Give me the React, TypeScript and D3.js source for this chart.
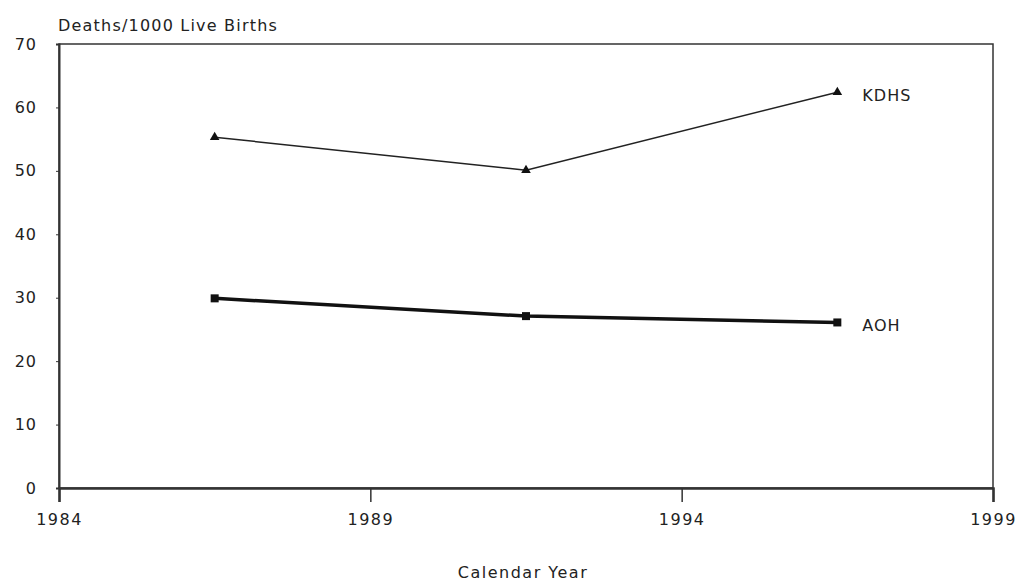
import { useEffect, useRef } from 'react';
import * as d3 from 'd3';

const years = [1986.5, 1991.5, 1996.5];
const kdhs = [55.3, 50.1, 62.4];
const aoh = [29.9, 27.1, 26.1];
const xTicks = [1984, 1989, 1994, 1999];
const yTicks = [0, 10, 20, 30, 40, 50, 60, 70];

const W = 1019;
const H = 581;
const margin = { top: 44, right: 26, bottom: 93, left: 59 };

export default function App() {
    const ref = useRef(null);

    useEffect(() => {
        const svg = d3.select(ref.current);
        svg.selectAll('*').remove();

        const x = d3.scaleLinear().domain([1984, 1999]).range([margin.left, W - margin.right]);
        const y = d3.scaleLinear().domain([0, 70]).range([H - margin.bottom, margin.top]);
        const font = 'DejaVu Sans, Verdana, sans-serif';

        // frame
        svg.append('rect')
            .attr('x', x(1984)).attr('y', y(70))
            .attr('width', x(1999) - x(1984)).attr('height', y(0) - y(70))
            .attr('fill', 'none').attr('stroke', '#333').attr('stroke-width', 1.5);

        // x axis
        const xAxis = svg.append('g')
            .attr('transform', `translate(0,${y(0)})`)
            .call(d3.axisBottom(x).tickValues(xTicks).tickFormat(d3.format('d')).tickSize(14).tickPadding(12));
        xAxis.select('.domain').attr('stroke', '#333').attr('stroke-width', 2.5);
        xAxis.selectAll('.tick line').attr('stroke', '#333').attr('stroke-width', 1.5);
        xAxis.selectAll('text').attr('font-family', font).attr('font-size', 16)
            .attr('letter-spacing', 1.5).attr('fill', '#222');

        // y axis
        const yAxis = svg.append('g')
            .attr('transform', `translate(${x(1984)},0)`)
            .call(d3.axisLeft(y).tickValues(yTicks).tickSize(3).tickPadding(19));
        yAxis.select('.domain').attr('stroke', '#333').attr('stroke-width', 2);
        yAxis.selectAll('.tick line').attr('stroke', '#333');
        yAxis.selectAll('text').attr('font-family', font).attr('font-size', 16)
            .attr('letter-spacing', 1).attr('fill', '#222');

        const line = d3.line<number>().x((_, i) => x(years[i])).y((d) => y(d));

        // KDHS
        svg.append('path').datum(kdhs)
            .attr('d', line).attr('fill', 'none').attr('stroke', '#222').attr('stroke-width', 1.5);
        const tri = d3.symbol().type(d3.symbolTriangle).size(40);
        svg.selectAll('.kdhs-pt').data(kdhs).enter().append('path')
            .attr('transform', (d, i) => `translate(${x(years[i])},${y(d)})`)
            .attr('d', tri()).attr('fill', '#111');

        // AOH
        svg.append('path').datum(aoh)
            .attr('d', line).attr('fill', 'none').attr('stroke', '#111').attr('stroke-width', 3.5);
        svg.selectAll('.aoh-pt').data(aoh).enter().append('rect')
            .attr('x', (d, i) => x(years[i]) - 4).attr('y', (d) => y(d) - 4)
            .attr('width', 8).attr('height', 8).attr('fill', '#111');

        // series labels
        svg.append('text').attr('x', x(years[2]) + 25).attr('y', y(kdhs[2]) + 9)
            .attr('font-family', font).attr('font-size', 16).attr('letter-spacing', 1)
            .attr('fill', '#222').text('KDHS');
        svg.append('text').attr('x', x(years[2]) + 25).attr('y', y(aoh[2]) + 9)
            .attr('font-family', font).attr('font-size', 16).attr('letter-spacing', 1)
            .attr('fill', '#222').text('AOH');

        // titles
        svg.append('text').attr('x', 58).attr('y', 31)
            .attr('font-family', font).attr('font-size', 16).attr('letter-spacing', 1.2)
            .attr('fill', '#222').text('Deaths/1000 Live Births');
        svg.append('text').attr('x', (x(1984) + x(1999)) / 2 - 3).attr('y', 578)
            .attr('text-anchor', 'middle')
            .attr('font-family', font).attr('font-size', 16).attr('letter-spacing', 1.5)
            .attr('fill', '#222').text('Calendar Year');
    }, []);

    return (
        <svg ref={ref} width={W} height={H}
            style={{ position: 'absolute', left: 0, top: 0, background: '#fff' }} />
    );
}
